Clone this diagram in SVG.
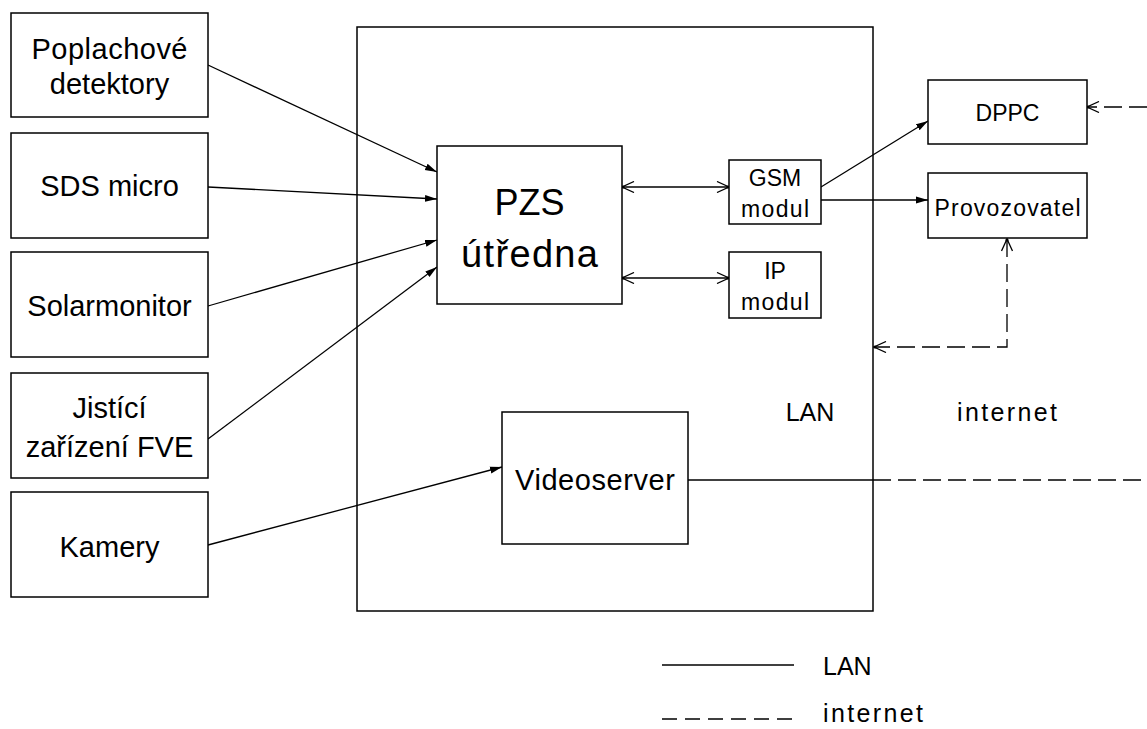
<svg xmlns="http://www.w3.org/2000/svg" width="1147" height="729" viewBox="0 0 1147 729">
  <style>
    .box { fill: #ffffff; stroke: #000000; stroke-width: 1.5; }
    .frame { fill: none; stroke: #000000; stroke-width: 1.5; }
    .lan { fill: none; stroke: #000000; stroke-width: 1.3; }
    .net { fill: none; stroke: #000000; stroke-width: 1.3; stroke-dasharray: 18 7; }
    .key { fill: none; stroke: #000000; stroke-width: 1.3; stroke-dasharray: 15 8; }
    text { font-family: "Liberation Sans", Arial, sans-serif; fill: #000000; text-anchor: middle; }
    .big { font-size: 29px; }
    .huge { font-size: 36px; }
    .huge2 { font-size: 38px; }
    .small { font-size: 23px; }
    .label { font-size: 25px; }
    .legend { font-size: 25px; text-anchor: start; }
  </style>
  <defs>
    <marker id="solid-head" viewBox="0 0 12 8" refX="12" refY="4" markerWidth="12" markerHeight="8" markerUnits="userSpaceOnUse" orient="auto">
      <path d="M0,0.5 L12,4 L0,7.5 z" fill="#000000"/>
    </marker>
    <marker id="open-head" viewBox="0 0 14 12" refX="13" refY="6" markerWidth="14" markerHeight="12" markerUnits="userSpaceOnUse" orient="auto-start-reverse">
      <path d="M1,0.5 L13,6 L1,11.5" fill="none" stroke="#000000" stroke-width="1.3"/>
      <circle cx="12" cy="6" r="1.6" fill="#000000"/>
    </marker>
  </defs>

  <!-- LAN boundary -->
  <g id="lan-area">
    <rect class="frame" x="357" y="27" width="516" height="584"/>
    <text class="label" x="810" y="421">LAN</text>
    <text class="label" x="1007" y="421" textLength="100">internet</text>
  </g>

  <!-- connectors -->
  <g id="connectors">
    <line class="lan" x1="208" y1="65" x2="437" y2="172" marker-end="url(#solid-head)"/>
    <line class="lan" x1="208" y1="187" x2="437" y2="199" marker-end="url(#solid-head)"/>
    <line class="lan" x1="208" y1="306" x2="437" y2="240" marker-end="url(#solid-head)"/>
    <line class="lan" x1="208" y1="439" x2="437" y2="267" marker-end="url(#solid-head)"/>
    <line class="lan" x1="208" y1="545" x2="502" y2="467" marker-end="url(#solid-head)"/>
    <line class="lan" x1="622" y1="187" x2="729" y2="187" marker-start="url(#open-head)" marker-end="url(#open-head)"/>
    <line class="lan" x1="622" y1="278" x2="729" y2="278" marker-start="url(#open-head)" marker-end="url(#open-head)"/>
    <line class="lan" x1="821" y1="187" x2="928" y2="121" marker-end="url(#solid-head)"/>
    <line class="lan" x1="821" y1="200" x2="928" y2="200" marker-end="url(#solid-head)"/>
    <line class="net" x1="1147" y1="107" x2="1087" y2="107" marker-end="url(#open-head)"/>
    <path class="net" d="M1007,239 L1007,347 L874,347" marker-start="url(#open-head)" marker-end="url(#open-head)"/>
    <line class="lan" x1="688" y1="480" x2="873" y2="480"/>
    <line class="net" x1="873" y1="480" x2="1147" y2="480"/>
  </g>

  <!-- input devices -->
  <g id="poplachove-detektory">
    <rect class="box" x="11" y="13" width="197" height="104"/>
    <text class="big" x="109.5" y="59" textLength="156">Poplachové</text>
    <text class="big" x="109.5" y="94">detektory</text>
  </g>
  <g id="sds-micro">
    <rect class="box" x="11" y="133" width="197" height="105"/>
    <text class="big" x="109.5" y="196">SDS micro</text>
  </g>
  <g id="solarmonitor">
    <rect class="box" x="11" y="252" width="197" height="105"/>
    <text class="big" x="109.5" y="316">Solarmonitor</text>
  </g>
  <g id="jistici-zarizeni">
    <rect class="box" x="11" y="373" width="197" height="105"/>
    <text class="big" x="109.5" y="418">Jistící</text>
    <text class="big" x="109.5" y="457">zařízení FVE</text>
  </g>
  <g id="kamery">
    <rect class="box" x="11" y="492" width="197" height="105"/>
    <text class="big" x="109.5" y="557">Kamery</text>
  </g>

  <!-- LAN equipment -->
  <g id="pzs-ustredna">
    <rect class="box" x="437" y="146" width="185" height="158"/>
    <text class="huge" x="529.5" y="215">PZS</text>
    <text class="huge2" x="529.5" y="267" textLength="137">útředna</text>
  </g>
  <g id="gsm-modul">
    <rect class="box" x="729" y="160" width="92" height="64"/>
    <text class="small" x="775" y="186">GSM</text>
    <text class="small" x="775" y="217" textLength="68">modul</text>
  </g>
  <g id="ip-modul">
    <rect class="box" x="729" y="252" width="92" height="66"/>
    <text class="small" x="775" y="279">IP</text>
    <text class="small" x="775" y="310" textLength="68">modul</text>
  </g>
  <g id="videoserver">
    <rect class="box" x="502" y="412" width="186" height="132"/>
    <text class="big" x="595" y="490" textLength="160">Videoserver</text>
  </g>

  <!-- remote parties -->
  <g id="dppc">
    <rect class="box" x="928" y="80" width="159" height="64"/>
    <text class="small" x="1007.5" y="121">DPPC</text>
  </g>
  <g id="provozovatel">
    <rect class="box" x="928" y="173" width="159" height="65"/>
    <text class="small" x="1007.5" y="216" textLength="146">Provozovatel</text>
  </g>

  <!-- legend -->
  <g id="legend">
    <line class="lan" x1="662" y1="665" x2="794" y2="665"/>
    <text class="legend" x="823" y="675">LAN</text>
    <line class="key" x1="662" y1="719" x2="794" y2="719"/>
    <text class="legend" x="823" y="722" textLength="100">internet</text>
  </g>
</svg>
